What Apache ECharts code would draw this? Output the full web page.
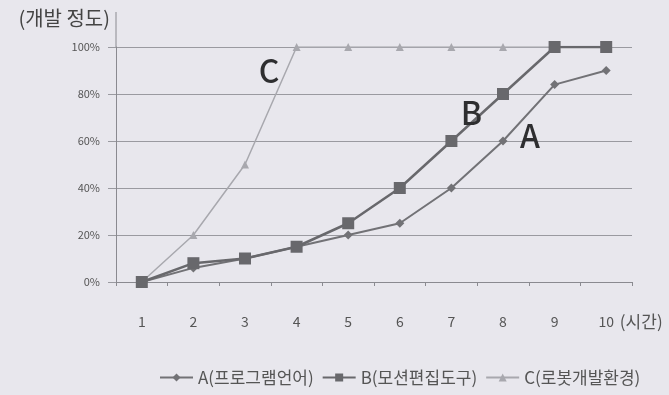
<!DOCTYPE html>
<html><head><meta charset="utf-8">
<script src="https://cdn.jsdelivr.net/npm/echarts@6/dist/echarts.min.js"></script>
<style>html,body{margin:0;padding:0;background:#e8e7ed;}#c{width:669px;height:395px;}</style>
</head><body><div id="c"></div>
<script>
var categories = ['1','2','3','4','5','6','7','8','9','10'];
var seriesA = [0, 6, 10, 15, 20, 25, 40, 60, 84, 90];
var seriesB = [0, 8, 10, 15, 25, 40, 60, 80, 100, 100];
var seriesC = [0, 20, 50, 100, 100, 100, 100, 100, 100, 100];
var names = ['A(프로그램언어)', 'B(모션편집도구)', 'C(로봇개발환경)'];
var yTicks = [0, 20, 40, 60, 80, 100];
// annotation letters placed near a category / value
var labels = [
  {text: 'C', cat: '3', val: 90},
  {text: 'B', cat: '7', val: 72},
  {text: 'A', cat: '8', val: 62}
];
var font = '"Noto Sans CJK KR", "Noto Sans", sans-serif';
var labelShift = [24, 20, 27];
var chart = echarts.init(document.getElementById('c'));
chart.setOption({
  backgroundColor: '#e8e7ed',
  animation: false,
  textStyle: {fontFamily: font},
  grid: {left: 116, right: 37, top: 47, bottom: 113},
  legend: {
    bottom: 4, left: 154, itemWidth: 33, itemHeight: 10, itemGap: 8,
    textStyle: {fontSize: 17, color: '#555', fontFamily: font},
    data: names
  },
  xAxis: {
    type: 'category', data: categories, boundaryGap: true,
    axisLine: {lineStyle: {color: '#8a8a90', width: 1}},
    axisTick: {show: true, length: 4, lineStyle: {color: '#8a8a90'}},
    axisLabel: {margin: 33, fontSize: 14, color: '#555', fontFamily: font},
    name: '(시간)', nameLocation: 'end', nameGap: 30,
    nameTextStyle: {fontSize: 17, color: '#555', align: 'right', verticalAlign: 'top', lineHeight: 80, fontFamily: font}
  },
  yAxis: {
    type: 'value', min: 0, max: 100, interval: 20,
    axisLine: {show: true, lineStyle: {color: '#8a8a90'}},
    axisTick: {show: true, length: 8, lineStyle: {color: '#9a9aa0'}},
    splitLine: {lineStyle: {color: '#9a9aa0', width: 1}},
    axisLabel: {margin: 16, fontSize: 11, color: '#555', formatter: '{value}%', fontFamily: font},
    name: '(개발 정도)', nameLocation: 'end', nameGap: 19,
    nameTextStyle: {fontSize: 20, color: '#444', align: 'right', padding: [0, 6, 0, 0], fontFamily: font}
  },
  graphic: [{type: 'line', shape: {x1: 116, y1: 12, x2: 116, y2: 47}, style: {stroke: '#8a8a90', lineWidth: 1}}],
  series: [
    {
      name: names[0], type: 'line', data: seriesA, symbol: 'diamond', symbolSize: 9,
      lineStyle: {color: '#727276', width: 2}, itemStyle: {color: '#727276'}, z: 3
    },
    {
      name: names[1], type: 'line', data: seriesB, symbol: 'rect', symbolSize: 12,
      lineStyle: {color: '#68686c', width: 2.5}, itemStyle: {color: '#68686c'}, z: 4,
      markPoint: {
        symbol: 'circle', symbolSize: 1, itemStyle: {color: 'transparent'},
        data: labels.map(function (l, i) {
          return {
            coord: [l.cat, l.val], value: l.text,
            label: {show: true, position: 'inside', offset: [labelShift[i], 0], fontSize: 32, fontWeight: 500, color: '#2e2e30', fontFamily: font, formatter: '{c}'}
          };
        })
      }
    },
    {
      name: names[2], type: 'line', data: seriesC, symbol: 'triangle', symbolSize: 8,
      lineStyle: {color: '#a8a8ae', width: 1.5}, itemStyle: {color: '#a8a8ae'}, z: 2
    }
  ]
});
</script></body></html>
